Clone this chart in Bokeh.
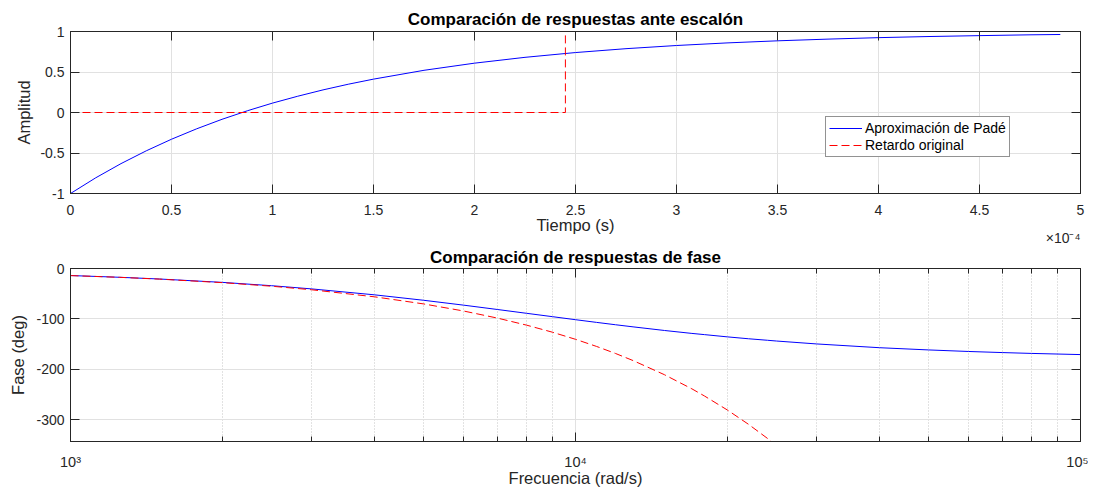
from bokeh.plotting import figure
from bokeh.layouts import column
from bokeh.models import (Range1d, FixedTicker, LinearAxis, LogAxis, LogTicker,
                          CustomJSTickFormatter, Legend, LegendItem, Title)
from bokeh.embed import file_html
from bokeh.resources import INLINE

# ---------------- data ----------------
# step responses (time in seconds)
time_pade = [0, 0.125e-4, 0.25e-4, 0.375e-4, 0.5e-4, 0.625e-4, 0.75e-4, 0.875e-4,
             1.0e-4, 1.125e-4, 1.25e-4, 1.375e-4, 1.5e-4, 1.75e-4, 2.0e-4,
             2.25e-4, 2.5e-4, 2.75e-4, 3.0e-4, 3.25e-4, 3.5e-4, 3.75e-4, 4.0e-4,
             4.25e-4, 4.5e-4, 4.75e-4, 4.9e-4]
amp_pade = [-1.0, -0.806, -0.631, -0.473, -0.330, -0.201, -0.084, 0.021,
            0.116, 0.201, 0.279, 0.349, 0.412, 0.521, 0.609,
            0.681, 0.740, 0.788, 0.827, 0.859, 0.885, 0.906, 0.924,
            0.938, 0.949, 0.959, 0.963]
time_delay = [0, 2.45e-4, 2.45e-4, 5.0e-4]
amp_delay = [0, 0, 1, 1]

# phase responses
freq = [1000, 1250, 1500, 2000, 2500, 3000, 4000, 5000, 6000, 7000, 8000, 9000,
        10000, 11000, 12000, 13000, 15000, 17000, 18000, 20000, 22000, 24000,
        25000, 30000, 40000, 50000, 60000, 70000, 80000, 100000]
phase_pade = [-13.97, -17.4, -20.83, -27.54, -34.1, -40.40, -52.22, -62.98,
              -72.64, -81.24, -88.84, -95.5, -101.50, -106.8, -111.51, -115.7,
              -122.88, -128.7, -131.1, -135.59, -139.3, -142.3, -143.78,
              -149.54, -157.05, -161.45, -164.51, -166.69, -168.35, -170.67]
freq_delay = [1000, 1250, 1500, 2000, 2500, 3000, 4000, 5000, 6000, 7000, 8000,
              9000, 10000, 11000, 12000, 13000, 15000, 17000, 18000, 20000, 22000,
              24000, 25000]
phase_delay = [-14.04, -17.5, -21.06, -28.07, -35.1, -42.11, -56.15, -70.19,
               -84.22, -98.26, -112.30, -126.3, -140.37, -154.4, -168.45, -182.5,
               -210.56, -238.6, -252.7, -280.75, -308.8, -336.9, -350.9]

top_xticks = [0, 0.5e-4, 1e-4, 1.5e-4, 2e-4, 2.5e-4, 3e-4, 3.5e-4, 4e-4, 4.5e-4, 5e-4]
top_yticks = [-1, -0.5, 0, 0.5, 1]
bot_yticks = [-300, -200, -100, 0]

FONT = "Liberation Sans"
AX = "#262626"
GRID = "#e1e1e1"
BLUE = "#0000ff"
RED = "#ff0000"


def style_axis(ax, tick_in=9, minor_in=0, size="14px"):
    ax.axis_line_color = AX
    ax.major_tick_line_color = AX
    ax.minor_tick_line_color = AX
    ax.major_tick_in = tick_in
    ax.major_tick_out = 0
    ax.minor_tick_in = minor_in
    ax.minor_tick_out = 0
    ax.major_label_text_font = FONT
    ax.major_label_text_font_size = size
    ax.major_label_text_color = AX
    ax.axis_label_text_font = FONT
    ax.axis_label_text_font_size = "16.5px"
    ax.axis_label_text_font_style = "normal"
    ax.axis_label_text_color = AX


def hide_labels(ax):
    ax.major_label_text_font_size = "0px"
    ax.major_label_standoff = 0
    ax.formatter = CustomJSTickFormatter(code="return '';")


# ---------------- top figure ----------------
p1 = figure(width=1088, height=244, output_backend="svg", toolbar_location=None,
            x_range=Range1d(0, 5e-4), y_range=Range1d(-1, 1),
            min_border_left=70, min_border_right=8, min_border_top=31,
            min_border_bottom=51, background_fill_color="white",
            border_fill_color="white", outline_line_color=AX)
p1.title = Title(text="Comparación de respuestas ante escalón", align="center",
                 text_font=FONT, text_font_size="17px", text_font_style="bold",
                 text_color="black", standoff=5)

l1 = p1.line(time_pade, amp_pade, line_color=BLUE, line_width=1)
l2 = p1.line(time_delay, amp_delay, line_color=RED, line_width=1, line_dash="8 4")

xf = CustomJSTickFormatter(code="return (Math.round(tick*1e5)/10).toString();")
yf = CustomJSTickFormatter(code="return tick.toString();")
p1.xaxis.ticker = FixedTicker(ticks=top_xticks)
p1.xaxis.formatter = xf
p1.yaxis.ticker = FixedTicker(ticks=top_yticks)
p1.yaxis.formatter = yf
p1.xaxis.axis_label = "Tiempo (s)"
p1.yaxis.axis_label = "Amplitud"
for a in p1.xaxis + p1.yaxis:
    style_axis(a)
p1.xaxis.major_label_standoff = 11
p1.xaxis.axis_label_standoff = -2
p1.yaxis.major_label_standoff = 6
p1.yaxis.axis_label_standoff = 4

ax_top = LinearAxis(ticker=FixedTicker(ticks=top_xticks))
ax_right = LinearAxis(ticker=FixedTicker(ticks=top_yticks))
for a in (ax_top, ax_right):
    style_axis(a)
    hide_labels(a)
p1.add_layout(ax_top, "above")
p1.add_layout(ax_right, "right")

p1.grid.grid_line_color = GRID
p1.grid.grid_line_width = 1

legend = Legend(items=[LegendItem(label="Aproximación de Padé", renderers=[l1]),
                       LegendItem(label="Retardo original", renderers=[l2])],
                location=(755, 36), border_line_color=AX, border_line_width=1,
                background_fill_color="white", background_fill_alpha=1,
                label_text_font=FONT, label_text_font_size="14px",
                label_text_color="black", glyph_width=33, glyph_height=16,
                label_height=16, label_standoff=3, spacing=1, padding=3, margin=0)
p1.add_layout(legend, "center")

# exponent note under the x axis (a Title in the below panel is not clipped)
exp_title = Title(text="×10⁻⁴", align="right", vertical_align="top",
                  text_font=FONT, text_font_size="14px", text_font_style="normal",
                  text_color=AX, offset=0)
try:
    exp_title.standoff = -14
except Exception:
    exp_title.standoff = 0
p1.add_layout(exp_title, "below")

# ---------------- bottom figure ----------------
p2 = figure(width=1088, height=245, output_backend="svg", toolbar_location=None,
            x_axis_type="log", x_range=Range1d(1e3, 1e5), y_range=Range1d(-343, 0),
            min_border_left=69, min_border_right=8, min_border_top=22,
            min_border_bottom=45, background_fill_color="white",
            border_fill_color="white", outline_line_color=AX)
p2.title = Title(text="Comparación de respuestas de fase", align="center",
                 text_font=FONT, text_font_size="17px", text_font_style="bold",
                 text_color="black", standoff=3)

p2.line(freq, phase_pade, line_color=BLUE, line_width=1)
p2.line(freq_delay, phase_delay, line_color=RED, line_width=1, line_dash="8 4")

logf = CustomJSTickFormatter(code="""
const e = Math.round(Math.log10(tick));
const sup = {3: '\u00b3', 4: '\u2074', 5: '\u2075'};
return '10' + (sup[e] !== undefined ? sup[e] : String(e));
""")
p2.xaxis.ticker = LogTicker(num_minor_ticks=10)
p2.xaxis.formatter = logf
p2.yaxis.ticker = FixedTicker(ticks=bot_yticks)
p2.yaxis.formatter = yf
p2.xaxis.axis_label = "Frecuencia (rad/s)"
p2.yaxis.axis_label = "Fase (deg)"
for a in p2.xaxis:
    style_axis(a, tick_in=9, minor_in=5, size="14.5px")
for a in p2.yaxis:
    style_axis(a)
p2.xaxis.major_label_standoff = 12
p2.xaxis.axis_label_standoff = -4
p2.yaxis.major_label_standoff = 6
p2.yaxis.axis_label_standoff = 6

ax_top2 = LogAxis(ticker=LogTicker(num_minor_ticks=10))
ax_right2 = LinearAxis(ticker=FixedTicker(ticks=bot_yticks))
style_axis(ax_top2, tick_in=9, minor_in=5)
style_axis(ax_right2)
hide_labels(ax_top2)
hide_labels(ax_right2)
p2.add_layout(ax_top2, "above")
p2.add_layout(ax_right2, "right")

p2.ygrid.grid_line_color = GRID
p2.xgrid.grid_line_color = GRID
p2.xgrid.minor_grid_line_color = "#c4c4c4"
p2.xgrid.minor_grid_line_dash = "1 2"

layout = column(p1, p2, spacing=0)
open("out.html", "w").write(file_html(layout, INLINE))
